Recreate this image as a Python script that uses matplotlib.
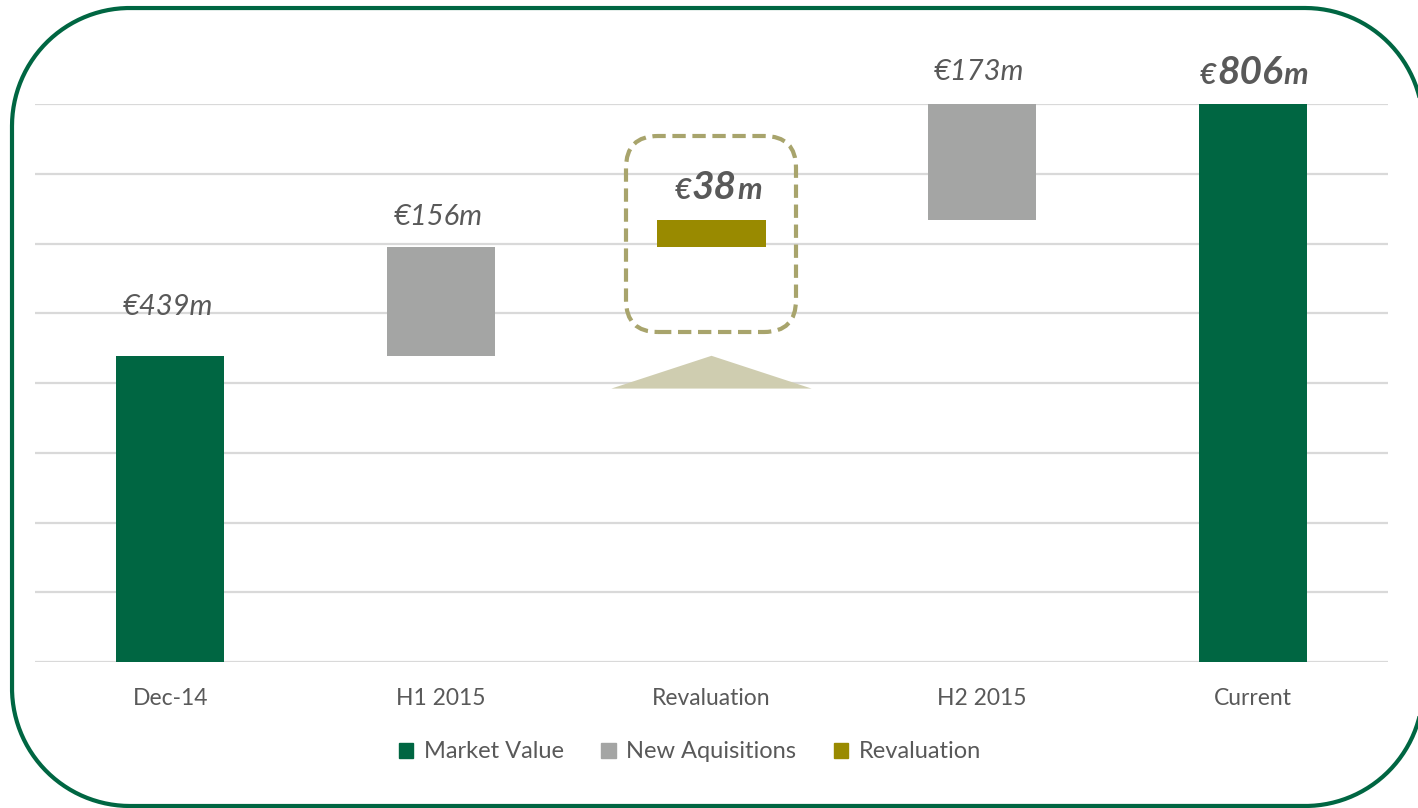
import matplotlib
matplotlib.use("Agg")
import numpy as np
import matplotlib.pyplot as plt
from matplotlib.patches import FancyBboxPatch, Polygon, Patch
from matplotlib.lines import Line2D
from matplotlib.transforms import IdentityTransform, offset_copy

plt.rcParams['font.family'] = ['Lato', 'DejaVu Sans']

categories = ["Dec-14", "H1 2015", "Revaluation", "H2 2015", "Current"]
market_value = [439, 0, 0, 0, 806]
new_acquisitions = [0, 156, 0, 173, 0]
revaluation = [0, 0, 38, 0, 0]
value_labels = ["€439m", "€156m", "€38m", "€173m", "€806m"]
legend_labels = ["Market Value", "New Aquisitions", "Revaluation"]

GREEN = "#006642"
GRAY = "#a4a5a4"
OLIVE = "#998a00"
TXT = "#595959"

W, H = 1418, 808
fig = plt.figure(figsize=(W / 100, H / 100), dpi=100)
ax = fig.add_axes([35/W, 1 - 662/H, (1388-35)/W, (662-104)/H])

# waterfall bases
bases = []
running = 0
for i in range(len(categories)):
    if market_value[i] > 0:
        bases.append(0)
        running = market_value[i]
    else:
        step = new_acquisitions[i] + revaluation[i]
        bases.append(running)
        running += step

x = list(range(len(categories)))
w = 0.4
ax.bar(x, market_value, width=w, color=GREEN, zorder=3)
ax.bar(x, new_acquisitions, width=w, bottom=bases, color=GRAY, zorder=3)
ax.bar(x, revaluation, width=w, bottom=bases, color=OLIVE, zorder=3)

ax.set_xlim(-0.5, 4.5)
ax.set_ylim(0, 800)
ax.set_yticks(range(0, 801, 100))
ax.yaxis.grid(True, color="#d9d9d9", linewidth=1.6, zorder=0)
ax.set_axisbelow(True)
ax.tick_params(axis='y', left=False, labelleft=False)
ax.tick_params(axis='x', bottom=False, pad=15, labelsize=16.5, labelcolor=TXT)
ax.set_xticks(x)
ax.set_xticklabels(categories)
for s in ax.spines.values():
    s.set_visible(False)

# value labels
tops = [bases[i] + market_value[i] + new_acquisitions[i] + revaluation[i] for i in x]
offsets = [36, 17, 0, 15, 0]
for i in x:
    if i in (2, 4):
        continue
    ax.text(i - 0.01, tops[i], value_labels[i], ha='center', va='bottom',
            fontsize=21, style='italic', color=TXT, zorder=5,
            transform=offset_copy(ax.transData, fig=fig, x=0, y=offsets[i], units='dots'))

# emphasised labels with smaller euro sign and "m"
fig.canvas.draw()
renderer = fig.canvas.get_renderer()
def big_label(i, dy, size, xshift):
    num = value_labels[i].strip("€m")
    tr = offset_copy(ax.transData, fig=fig, x=0, y=dy, units='dots')
    t = ax.text(i + xshift, tops[i], num, ha='center', va='baseline', fontsize=size,
                style='italic', weight='bold', color=TXT, zorder=5, transform=tr)
    bb = t.get_window_extent(renderer)
    inv = ax.transData.inverted()
    xl = inv.transform((bb.x0 - 1, 0))[0]
    xr = inv.transform((bb.x1 + 1, 0))[0]
    ax.text(xl, tops[i], "€", ha='right', va='baseline', fontsize=size * 0.72,
            style='italic', weight='bold', color=TXT, transform=tr, zorder=5)
    ax.text(xr, tops[i], "m", ha='left', va='baseline', fontsize=size * 0.8,
            style='italic', weight='bold', color=TXT, transform=tr, zorder=5)

big_label(2, 21, 28, 0.01)
big_label(4, 16, 28, -0.01)

# dashed highlight box around revaluation and pointer triangle
box = FancyBboxPatch((626, H-332), 170, 196, boxstyle="round,pad=0,rounding_size=32",
                     transform=IdentityTransform(), fill=False, edgecolor="#a8a46c",
                     linewidth=3, linestyle=(0, (3.2, 1.6)), zorder=4)
fig.add_artist(box)
ri = 2
tri = Polygon([(ri - 0.37, bases[1] - 47), (ri + 0.37, bases[1] - 47), (ri, bases[1])],
              closed=True, facecolor="#cfcdb0", edgecolor='none', zorder=4)
ax.add_patch(tri)

# outer rounded border, built in pixel space then converted to figure fraction
def rounded_rect(x0, y0, x1, y1, r, n=60):
    pts = []
    corners = [((x1 - r, y1 - r), 0, 90), ((x0 + r, y1 - r), 90, 180),
               ((x0 + r, y0 + r), 180, 270), ((x1 - r, y0 + r), 270, 360)]
    for (cx, cy), a0, a1 in corners:
        a = np.radians(np.linspace(a0, a1, n))
        pts += list(zip(cx + r * np.cos(a), cy + r * np.sin(a)))
    pts.append(pts[0])
    p = np.array(pts)
    return p[:, 0] / W, p[:, 1] / H

bx, by = rounded_rect(12, 2, 1423, 800, 118)
fig.add_artist(Line2D(bx, by, transform=fig.transFigure, color=GREEN, linewidth=3,
                      solid_joinstyle='round', zorder=10))

handles = [Patch(color=GREEN), Patch(color=GRAY), Patch(color=OLIVE)]
leg = fig.legend(handles, legend_labels, loc='center', bbox_to_anchor=(690/W, 1 - 752/H),
                 ncol=3, frameon=False, fontsize=17, handlelength=0.6, handleheight=0.6,
                 handletextpad=0.45, columnspacing=1.6)
for t in leg.get_texts():
    t.set_color(TXT)

fig.savefig("out.png", dpi=100)
